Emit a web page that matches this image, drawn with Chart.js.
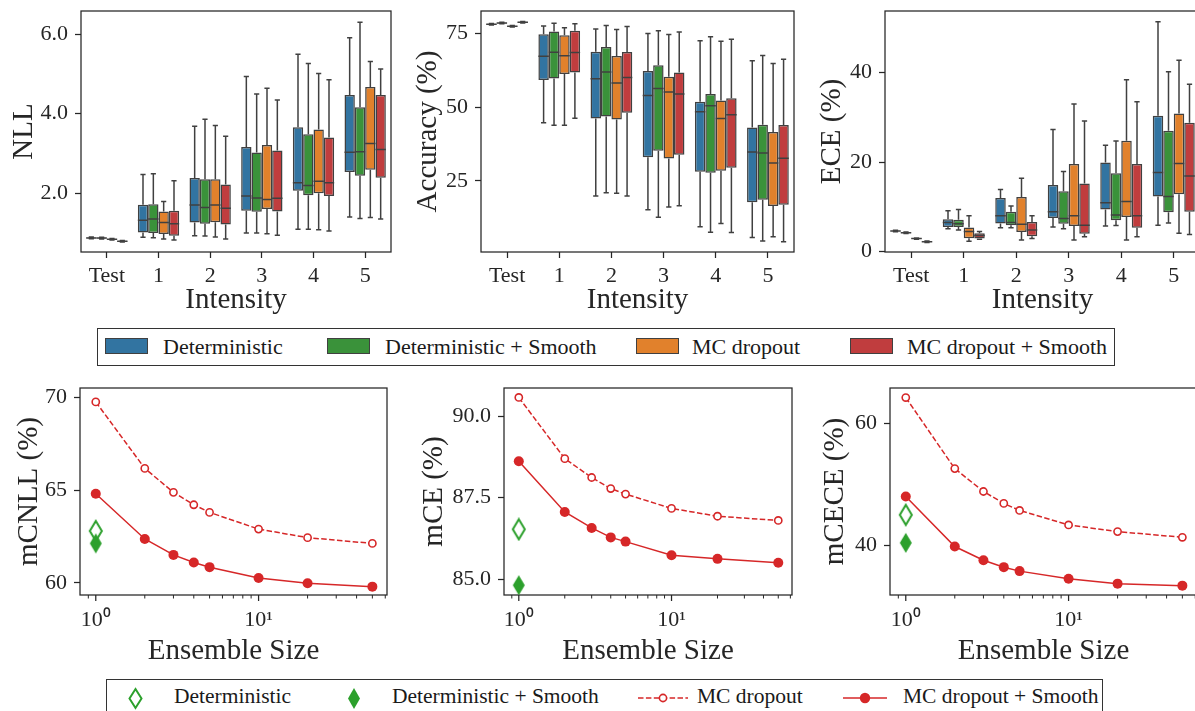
<!DOCTYPE html>
<html><head><meta charset="utf-8">
<script src="https://cdn.jsdelivr.net/npm/chart.js@4.4.1/dist/chart.umd.min.js"></script>
<style>
html,body{margin:0;padding:0;width:1195px;height:711px;overflow:hidden;background:#fff;font-family:"Liberation Serif",serif;color:#262626}
.cbox{position:absolute}
.legend{position:absolute;border:1px solid #333;box-sizing:border-box;background:#fff}
.txt{position:absolute;font-family:"Liberation Serif",serif;font-size:22px;height:30px;line-height:30px;white-space:nowrap;color:#1a1a1a}
.txt.b{font-size:21.5px}
.patch{position:absolute;width:43px;height:16px;box-sizing:border-box;border:1px solid #404040}
svg{position:absolute;overflow:visible}
</style></head><body>

<div class="legend" style="left:97px;top:328px;width:1018px;height:38px"></div>
<div class="patch" style="left:105px;top:338px;background:#3274a1"></div>
<div class="txt" style="left:163px;top:332px">Deterministic</div>
<div class="patch" style="left:327px;top:338px;background:#3a923a"></div>
<div class="txt" style="left:385px;top:332px">Deterministic + Smooth</div>
<div class="patch" style="left:636px;top:338px;background:#e1812c"></div>
<div class="txt" style="left:692px;top:332px">MC dropout</div>
<div class="patch" style="left:850px;top:338px;background:#c03d3e"></div>
<div class="txt" style="left:907px;top:332px">MC dropout + Smooth</div>

<div class="legend" style="left:106px;top:679px;width:997px;height:50px"></div>
<svg style="left:0;top:0" width="1195" height="711">
  <polygon points="135.5,689 141.5,698.5 135.5,708 129.5,698.5" fill="#fff" stroke="#2ca02c" stroke-width="2"/>
  <polygon points="354,688 360,698.5 354,709 348,698.5" fill="#2ca02c"/>
  <line x1="638" y1="698" x2="688" y2="698" stroke="#d62728" stroke-width="1.5" stroke-dasharray="5.5,2.4"/>
  <circle cx="663" cy="698" r="3.6" fill="#fff" stroke="#d62728" stroke-width="1.6"/>
  <line x1="843" y1="698" x2="887" y2="698" stroke="#d62728" stroke-width="1.5"/>
  <circle cx="865" cy="698" r="5.2" fill="#d62728"/>
</svg>
<div class="txt b" style="left:174px;top:681px">Deterministic</div>
<div class="txt b" style="left:392px;top:681px">Deterministic + Smooth</div>
<div class="txt b" style="left:697px;top:681px">MC dropout</div>
<div class="txt b" style="left:903px;top:681px">MC dropout + Smooth</div>

<script>
// ---------------- DATA ----------------
const intensityLabels = ['Test', '1', '2', '3', '4', '5'];
const boxSeriesNames = ['Deterministic', 'Deterministic + Smooth', 'MC dropout', 'MC dropout + Smooth'];
// each entry: [lower whisker, Q1, median, Q3, upper whisker] per intensity
const nllDeterministic = [[0.855,0.865,0.875,0.885,0.895],[0.89,1.01,1.32,1.71,2.47],[0.93,1.26,1.70,2.38,3.68],[1.00,1.56,1.93,3.16,4.93],[1.09,2.06,2.26,3.66,5.49],[1.40,2.53,3.03,4.47,5.91]];
const nllDeterministicSmooth = [[0.85,0.86,0.87,0.88,0.89],[0.88,1.00,1.35,1.72,2.49],[0.92,1.23,1.64,2.35,3.86],[1.00,1.53,1.88,3.02,4.49],[1.09,1.95,2.19,3.48,5.26],[1.36,2.44,3.04,4.16,6.30]];
const nllMCDropout = [[0.82,0.83,0.84,0.85,0.86],[0.85,0.97,1.26,1.54,1.79],[0.90,1.27,1.70,2.35,3.70],[0.98,1.60,1.84,3.21,4.64],[1.08,2.00,2.30,3.60,5.01],[1.39,2.59,3.25,4.67,5.31]];
const nllMCDropoutSmooth = [[0.77,0.78,0.79,0.80,0.81],[0.82,0.93,1.23,1.56,2.31],[0.85,1.21,1.62,2.22,3.43],[0.94,1.54,1.87,3.07,4.34],[1.05,1.93,2.26,3.40,4.85],[1.35,2.39,3.10,4.47,5.12]];

const accDeterministic = [[77.95,78.05,78.2,78.35,78.45],[44.8,59.3,67.3,74.8,77.6],[19.9,46.2,59.7,68.9,76.6],[15.2,33.1,54.0,62.3,75.1],[9.5,28.1,48.5,51.9,72.6],[5.8,17.8,34.8,43.2,65.8]];
const accDeterministicSmooth = [[78.35,78.45,78.6,78.75,78.85],[43.9,59.8,68.7,75.7,78.5],[21.0,46.9,62.0,70.5,77.8],[12.7,35.3,56.4,64.3,76.0],[7.6,27.8,50.5,54.5,74.0],[4.6,18.6,34.5,44.1,67.6]];
const accMCDropout = [[77.25,77.35,77.5,77.65,77.75],[43.9,61.3,67.5,74.5,77.0],[20.8,45.9,58.3,67.4,76.4],[16.2,32.6,55.2,60.4,74.7],[10.6,28.5,46.2,52.3,72.4],[6.1,16.5,31.1,41.6,64.9]];
const accMCDropoutSmooth = [[78.65,78.75,78.9,79.05,79.15],[46.3,61.8,68.6,76.0,78.4],[19.9,48.2,60.1,68.8,77.4],[16.6,33.9,54.5,61.8,75.6],[7.5,29.5,47.5,53.1,73.1],[4.4,16.9,32.7,44.0,66.3]];

const eceDeterministic = [[4.45,4.52,4.6,4.68,4.75],[5.1,5.5,6.5,7.2,9.1],[5.3,6.3,8.0,12.0,13.9],[5.5,7.5,8.9,14.9,27.3],[5.7,9.4,10.9,19.9,23.8],[5.9,12.3,17.7,30.4,51.4]];
const eceDeterministicSmooth = [[4.05,4.12,4.2,4.28,4.35],[4.8,5.5,6.2,7.1,9.4],[5.3,5.9,6.5,8.9,10.2],[5.1,6.2,7.4,13.5,17.9],[5.8,7.0,8.2,17.5,24.7],[6.4,8.8,12.3,27.0,40.2]];
const eceMCDropout = [[2.75,2.82,2.9,2.98,3.05],[2.3,3.0,4.5,5.4,8.0],[2.6,4.4,6.1,12.2,16.4],[2.6,5.7,8.0,19.6,33.0],[2.6,7.7,11.2,24.8,38.4],[4.1,12.8,19.7,30.9,42.8]];
const eceMCDropoutSmooth = [[2.05,2.12,2.2,2.28,2.35],[2.75,2.9,3.6,4.1,4.5],[2.9,3.4,4.8,6.6,8.0],[3.3,4.0,5.9,15.2,29.2],[3.3,5.3,8.0,19.6,33.5],[3.8,8.9,16.9,28.8,37.4]];

const ensembleSizes = [1, 2, 3, 4, 5, 10, 20, 50];
const mcnllMCDropout = [69.75, 66.17, 64.88, 64.21, 63.80, 62.90, 62.44, 62.13];
const mcnllMCDropoutSmooth = [64.80, 62.37, 61.51, 61.10, 60.85, 60.27, 59.98, 59.80];
const mcnllDeterministic = [62.80];
const mcnllDeterministicSmooth = [62.13];
const mceMCDropout = [90.58, 88.70, 88.12, 87.78, 87.61, 87.17, 86.93, 86.80];
const mceMCDropoutSmooth = [88.62, 87.06, 86.57, 86.28, 86.15, 85.73, 85.62, 85.50];
const mceDeterministic = [86.53];
const mceDeterministicSmooth = [84.81];
const mceceMCDropout = [64.24, 52.60, 48.85, 46.90, 45.75, 43.37, 42.28, 41.35];
const mceceMCDropoutSmooth = [48.04, 39.84, 37.60, 36.46, 35.81, 34.57, 33.76, 33.43];
const mceceDeterministic = [45.03];
const mceceDeterministicSmooth = [40.44];

const nllTicks = [2, 4, 6];
const accTicks = [25, 50, 75];
const eceTicks = [0, 20, 40];
const mcnllTicks = [60, 65, 70];
const mceTicks = [85, 87.5, 90];
const mceceTicks = [40, 60];
const ensembleTickValues = [0.9, 1, 2, 3, 4, 5, 6, 7, 8, 9, 10, 20, 30, 40, 50, 60];
const ensembleMajorTicks = [1, 10];

// ---------------- STYLE ----------------
const BOX_COLORS = ['#3274a1', '#3a923a', '#e1812c', '#c03d3e'];
const BOX_EDGE = '#404040';
const AX = '#262626';
const RED = '#d62728';
const GREEN = '#2ca02c';
const FONT = '"Liberation Serif", serif';
const TICK_SIZE = 22, TITLE_SIZE = 29;
const W = 90, PT = 30, PR = 4;

Chart.defaults.font.family = FONT;
Chart.defaults.color = AX;

const framePlugin = {
  id: 'frame',
  beforeDatasetsDraw(chart) {
    const a = chart.chartArea, ctx = chart.ctx;
    ctx.save(); ctx.strokeStyle = AX; ctx.lineWidth = 1.25;
    ctx.strokeRect(a.left, a.top, a.right - a.left, a.bottom - a.top);
    ctx.restore();
  }
};

const boxPlugin = {
  id: 'whiskers',
  afterDatasetsDraw(chart) {
    const ctx = chart.ctx, ys = chart.scales.y;
    ctx.save(); ctx.strokeStyle = BOX_EDGE; ctx.lineWidth = 1.5;
    chart.data.datasets.forEach((ds, di) => {
      chart.getDatasetMeta(di).data.forEach((bar, j) => {
        const s = ds.stats[j];
        const p = bar.getProps(['x', 'width'], true);
        const [lo, q1, med, q3, hi] = s.map(v => ys.getPixelForValue(v));
        const cap = p.width * 0.25;
        ctx.beginPath();
        ctx.moveTo(p.x, q1); ctx.lineTo(p.x, lo);
        ctx.moveTo(p.x - cap, lo); ctx.lineTo(p.x + cap, lo);
        ctx.moveTo(p.x, q3); ctx.lineTo(p.x, hi);
        ctx.moveTo(p.x - cap, hi); ctx.lineTo(p.x + cap, hi);
        ctx.moveTo(p.x - p.width / 2, med); ctx.lineTo(p.x + p.width / 2, med);
        ctx.stroke();
      });
    });
    ctx.restore();
  }
};

const logTickPlugin = {
  id: 'logticks',
  afterDraw(chart) {
    const xs = chart.scales.x, a = chart.chartArea, ctx = chart.ctx;
    ctx.save(); ctx.strokeStyle = AX;
    xs.ticks.forEach(t => {
      const px = xs.getPixelForValue(t.value);
      const major = ensembleMajorTicks.includes(t.value);
      ctx.lineWidth = major ? 1.25 : 1;
      ctx.beginPath(); ctx.moveTo(px, a.bottom); ctx.lineTo(px, a.bottom + (major ? 6 : 3.5)); ctx.stroke();
    });
    ctx.restore();
  }
};

function place(frame, xTitleY, yTitleX) {
  const left = frame.l - W, top = frame.t - PT;
  const fw = frame.r - frame.l, fh = frame.b - frame.t;
  const half = TITLE_SIZE * 1.2 / 2;
  const Hraw = xTitleY + half - frame.b;
  const H = Math.ceil(Hraw);
  const div = document.createElement('div');
  div.className = 'cbox';
  div.style.left = left + 'px'; div.style.top = top + 'px';
  const cv = document.createElement('canvas');
  cv.width = W + fw + PR; cv.height = PT + fh + H;
  cv.style.width = cv.width + 'px'; cv.style.height = cv.height + 'px';
  div.appendChild(cv); document.body.appendChild(div);
  return { cv, H, pb: H - Hraw, pt: yTitleX - left - half };
}

function yAxis(min, max, ticks, fmt, title, pt) {
  return {
    type: 'linear', position: 'left', min, max,
    afterBuildTicks: s => { s.ticks = ticks.map(v => ({ value: v })); },
    afterFit: s => { s.width = W; },
    ticks: { font: { size: TICK_SIZE }, color: AX, padding: 7, callback: v => fmt(v) },
    grid: { drawOnChartArea: false, tickLength: 6, tickColor: AX, tickWidth: 1.25 },
    border: { display: false },
    title: { display: true, text: title, font: { size: TITLE_SIZE, lineHeight: 1.2 }, color: AX, padding: { top: pt, bottom: 0 } }
  };
}

function boxChart(frame, xTitleY, yTitleX, series, ymin, ymax, ticks, fmt, title) {
  const g = place(frame, xTitleY, yTitleX);
  new Chart(g.cv, {
    type: 'bar',
    data: {
      labels: intensityLabels,
      datasets: series.map((s, i) => ({
        label: boxSeriesNames[i],
        data: s.map(v => [v[1], v[3]]),
        stats: s,
        backgroundColor: BOX_COLORS[i],
        borderColor: BOX_EDGE, borderWidth: 1.5, borderSkipped: false,
        categoryPercentage: 0.8, barPercentage: 1.0
      }))
    },
    options: {
      responsive: false, animation: false, events: [],
      layout: { padding: { top: PT, right: PR, left: 0, bottom: 0 } },
      plugins: { legend: { display: false }, tooltip: { enabled: false } },
      scales: {
        x: {
          type: 'category', offset: true,
          afterFit: s => { s.height = g.H; },
          ticks: { font: { size: TICK_SIZE }, color: AX, padding: 5, maxRotation: 0 },
          grid: { offset: false, drawOnChartArea: false, tickLength: 6, tickColor: AX, tickWidth: 1.25 },
          border: { display: false },
          title: { display: true, text: 'Intensity', font: { size: TITLE_SIZE, lineHeight: 1.2 }, color: AX, padding: { top: 0, bottom: g.pb } }
        },
        y: yAxis(ymin, ymax, ticks, fmt, title, g.pt)
      }
    },
    plugins: [framePlugin, boxPlugin]
  });
}

function diamond(filled) {
  const c = document.createElement('canvas');
  c.width = 16; c.height = 24;
  const x = c.getContext('2d');
  x.beginPath(); x.moveTo(8, 2); x.lineTo(14, 12); x.lineTo(8, 22); x.lineTo(2, 12); x.closePath();
  if (filled) { x.fillStyle = GREEN; x.fill(); }
  else { x.fillStyle = '#fff'; x.fill(); x.strokeStyle = GREEN; x.lineWidth = 2; x.stroke(); }
  return c;
}
const openDiamond = diamond(false), filledDiamond = diamond(true);

function lineChart(frame, xTitleY, yTitleX, mc, mcs, det, dets, ymin, ymax, ticks, fmt, title) {
  const g = place(frame, xTitleY, yTitleX);
  const pts = arr => ensembleSizes.map((x, i) => ({ x, y: arr[i] }));
  new Chart(g.cv, {
    type: 'line',
    data: {
      datasets: [
        { label: 'Deterministic + Smooth', data: dets.map(y => ({ x: 1, y })), showLine: false, pointStyle: filledDiamond, pointRadius: 8 },
        { label: 'Deterministic', data: det.map(y => ({ x: 1, y })), showLine: false, pointStyle: openDiamond, pointRadius: 8 },
        { label: 'MC dropout + Smooth', data: pts(mcs), borderColor: RED, borderWidth: 1.5, tension: 0,
          pointStyle: 'circle', pointRadius: 5, pointBackgroundColor: RED, pointBorderColor: RED, pointBorderWidth: 0 },
        { label: 'MC dropout', data: pts(mc), borderColor: RED, borderWidth: 1.5, borderDash: [5.5, 2.4], tension: 0,
          pointStyle: 'circle', pointRadius: 3.6, pointBackgroundColor: '#fff', pointBorderColor: RED, pointBorderWidth: 1.6 }
      ]
    },
    options: {
      responsive: false, animation: false, events: [],
      layout: { padding: { top: PT, right: PR, left: 0, bottom: 0 } },
      plugins: { legend: { display: false }, tooltip: { enabled: false } },
      scales: {
        x: {
          type: 'logarithmic', min: 0.8, max: 61.5,
          afterBuildTicks: s => { s.ticks = ensembleTickValues.filter(v => v >= s.min && v <= s.max).map(v => ({ value: v })); },
          afterFit: s => { s.height = g.H; },
          ticks: { font: { size: TICK_SIZE }, color: AX, padding: 6, autoSkip: false, maxRotation: 0,
            callback: v => v === 1 ? '10\u2070' : (v === 10 ? '10\u00b9' : '') },
          grid: { display: false, tickLength: 6 },
          border: { display: false },
          title: { display: true, text: 'Ensemble Size', font: { size: TITLE_SIZE, lineHeight: 1.2 }, color: AX, padding: { top: 0, bottom: g.pb } }
        },
        y: yAxis(ymin, ymax, ticks, fmt, title, g.pt)
      }
    },
    plugins: [framePlugin, logTickPlugin]
  });
}

const f1 = v => v.toFixed(1), f0 = v => String(v);

boxChart({ l: 81, r: 391, t: 11, b: 252 }, 300.5, 24.5,
  [nllDeterministic, nllDeterministicSmooth, nllMCDropout, nllMCDropoutSmooth], 0.52, 6.58, nllTicks, f1, 'NLL');
boxChart({ l: 481, r: 794, t: 11, b: 252 }, 300.5, 428.5,
  [accDeterministic, accDeterministicSmooth, accMCDropout, accMCDropoutSmooth], 0.9, 82.7, accTicks, f0, 'Accuracy (%)');
boxChart({ l: 885, r: 1200, t: 11, b: 252 }, 300.5, 832.5,
  [eceDeterministic, eceDeterministicSmooth, eceMCDropout, eceMCDropoutSmooth], -0.1, 53.8, eceTicks, f0, 'ECE (%)');

lineChart({ l: 80, r: 392, t: 388, b: 595 }, 651, 29,
  mcnllMCDropout, mcnllMCDropoutSmooth, mcnllDeterministic, mcnllDeterministicSmooth, 59.35, 70.5, mcnllTicks, f0, 'mCNLL (%)');
lineChart({ l: 504, r: 797, t: 388, b: 595 }, 651, 434,
  mceMCDropout, mceMCDropoutSmooth, mceDeterministic, mceDeterministicSmooth, 84.51, 90.87, mceTicks, f1, 'mCE (%)');
lineChart({ l: 890, r: 1202, t: 388, b: 595 }, 651, 835.5,
  mceceMCDropout, mceceMCDropoutSmooth, mceceDeterministic, mceceDeterministicSmooth, 31.9, 65.8, mceceTicks, f0, 'mCECE (%)');
</script>
</body></html>
